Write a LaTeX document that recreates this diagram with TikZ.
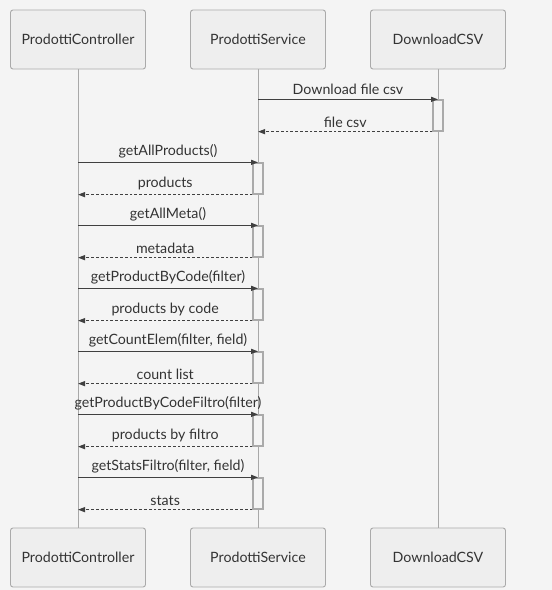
\documentclass[tikz,border=0pt]{standalone}
\usepackage{fontspec}
\setmainfont{Lato}
\usepackage{tikz}
\usetikzlibrary{backgrounds}
\usetikzlibrary{arrows.meta}
\definecolor{bgcol}{HTML}{F4F4F4}
\definecolor{boxfill}{HTML}{EEEEEE}
\definecolor{boxline}{HTML}{AAAAAA}
\definecolor{lifecol}{HTML}{A8A8A8}
\definecolor{msgcol}{HTML}{404040}
\definecolor{txtcol}{HTML}{333333}
\tikzstyle{call} = [draw=msgcol, line width=1.3pt, -{Triangle[length=7pt,width=5pt]}]
\tikzstyle{reply} = [draw=msgcol, line width=1.1pt, dash pattern=on 2.8pt off 2pt, -{Triangle[length=7pt,width=5pt]}]

\begin{document}
\begin{tikzpicture}[x=1pt, y=-1pt,
		actor/.style={
			draw=boxline,
			fill=boxfill,
			rounded corners=2.5pt,
			rectangle,
			line width=0.9pt,
			minimum width=135pt,
			minimum height=59pt,
			text=txtcol,
			font=\fontsize{14.2pt}{16pt}\selectfont},
		activ/.style={
			draw=boxline,
			fill=bgcol,
			rectangle,
			line width=1.3pt,
			minimum width=10pt,
			minimum height=31pt,
			inner sep=0pt},
		lbl/.style={
			midway,
			above=0.5pt,
			text=txtcol,
			font=\fontsize{14.2pt}{16pt}\selectfont}]
		\useasboundingbox (0,0) rectangle (552,590);

		% participants
		\node (ctl) [actor] at (78,39.5) {ProdottiController};
		\node (svc) [actor] at (258,39.5) {ProdottiService};
		\node (csv) [actor] at (438,39.5) {DownloadCSV};
		\node (ctlb) [actor] at (78,557.5) {ProdottiController};
		\node (svcb) [actor] at (258,557.5) {ProdottiService};
		\node (csvb) [actor] at (438,557.5) {DownloadCSV};

		% activations
		\node (act0) [activ] at (438,115.5) {};
		\node (act1) [activ] at (258,178.5) {};
		\node (act2) [activ] at (258,241.5) {};
		\node (act3) [activ] at (258,304.5) {};
		\node (act4) [activ] at (258,367.5) {};
		\node (act5) [activ] at (258,430.5) {};
		\node (act6) [activ] at (258,493.5) {};

		% messages
		\draw [call] (act0.north -| svc) -- (act0.north) node[lbl] {Download file csv};
		\draw [reply] (act0.south west) -- (act0.south -| svc) node[lbl] {file csv};
		\draw [call] (act1.north -| ctl) -- (act1.north) node[lbl] {getAllProducts()};
		\draw [reply] (act1.south west) -- (act1.south -| ctl) node[lbl] {products};
		\draw [call] (act2.north -| ctl) -- (act2.north) node[lbl] {getAllMeta()};
		\draw [reply] (act2.south west) -- (act2.south -| ctl) node[lbl] {metadata};
		\draw [call] (act3.north -| ctl) -- (act3.north) node[lbl] {getProductByCode(filter)};
		\draw [reply] (act3.south west) -- (act3.south -| ctl) node[lbl] {products by code};
		\draw [call] (act4.north -| ctl) -- (act4.north) node[lbl] {getCountElem(filter, field)};
		\draw [reply] (act4.south west) -- (act4.south -| ctl) node[lbl] {count list};
		\draw [call] (act5.north -| ctl) -- (act5.north) node[lbl] {getProductByCodeFiltro(filter)};
		\draw [reply] (act5.south west) -- (act5.south -| ctl) node[lbl] {products by filtro};
		\draw [call] (act6.north -| ctl) -- (act6.north) node[lbl] {getStatsFiltro(filter, field)};
		\draw [reply] (act6.south west) -- (act6.south -| ctl) node[lbl] {stats};

		\begin{scope}[on background layer]
			\fill [bgcol] (0,0) rectangle (552,590);
			\draw [lifecol, line width=0.9pt] (ctl) -- (ctlb);
			\draw [lifecol, line width=0.9pt] (svc) -- (svcb);
			\draw [lifecol, line width=0.9pt] (csv) -- (csvb);
		\end{scope}

	\end{tikzpicture}
\end{document}
